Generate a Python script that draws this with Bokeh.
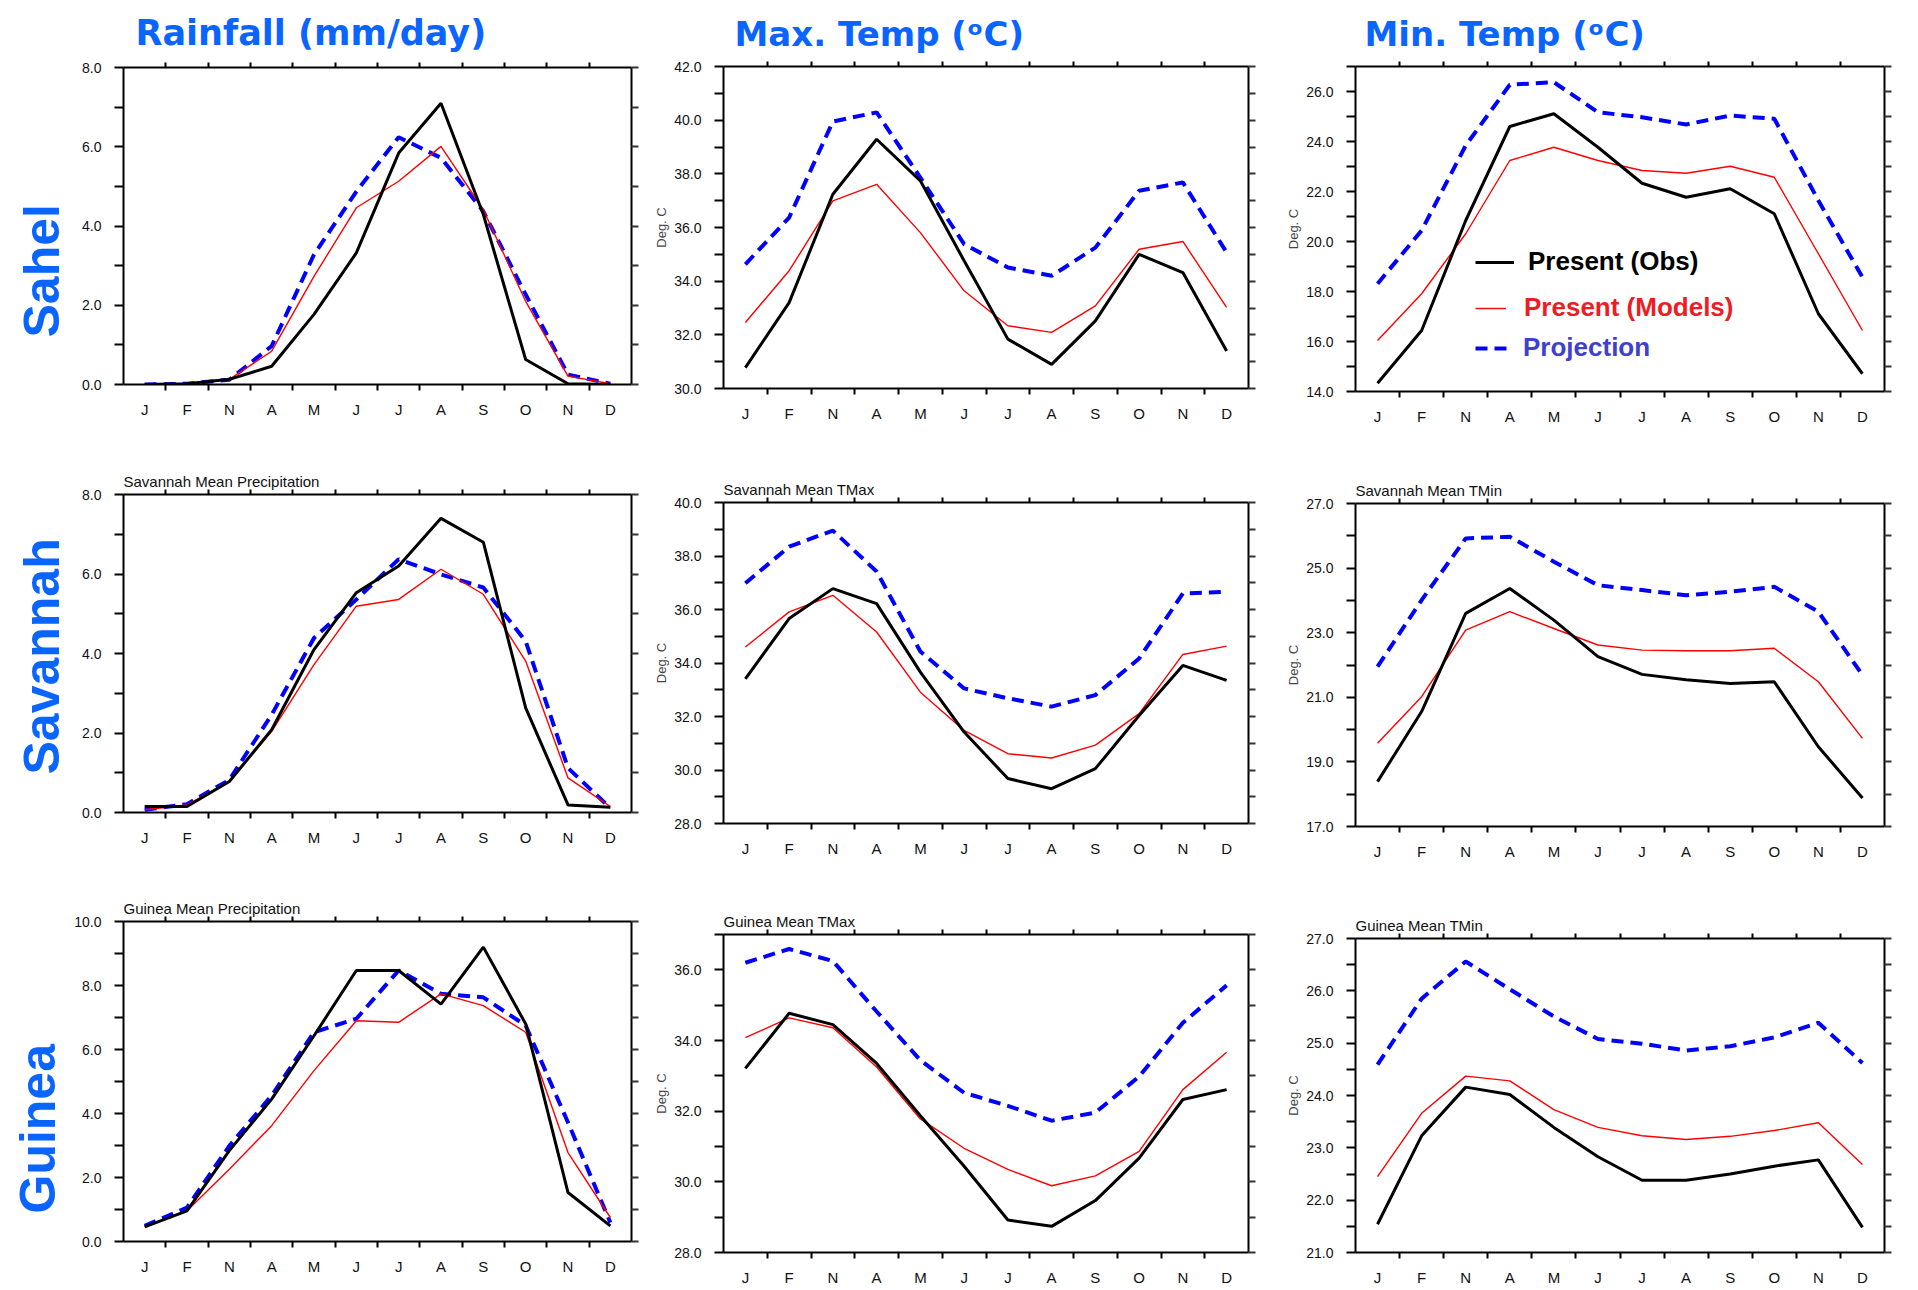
from bokeh.plotting import figure
from bokeh.layouts import column, row
from bokeh.models import (Range1d, FixedTicker, LinearAxis, Legend, LegendItem,
                          NumeralTickFormatter, Title)
from bokeh.embed import file_html
from bokeh.resources import INLINE

# ---------------- data ----------------
month_labels = ["J", "F", "N", "A", "M", "J", "J", "A", "S", "O", "N", "D"]
month_pos = [1, 2, 3, 4, 5, 6, 7, 8, 9, 10, 11, 12]
month_bounds = [1.5, 2.5, 3.5, 4.5, 5.5, 6.5, 7.5, 8.5, 9.5, 10.5, 11.5]

column_titles = ["Rainfall (mm/day)", "Max. Temp (\u1d52C)", "Min. Temp (\u1d52C)"]
row_titles = ["Sahel", "Savannah", "Guinea"]
legend_labels = ["Present (Obs)", "Present (Models)", "Projection"]

sahel_rain_obs = [0.0, 0.02, 0.13, 0.46, 1.77, 3.32, 5.84, 7.10, 4.29, 0.63, 0.02, 0.0]
sahel_rain_mod = [0.0, 0.02, 0.13, 0.84, 2.73, 4.46, 5.13, 6.01, 4.41, 2.10, 0.21, 0.02]
sahel_rain_proj = [0.0, 0.02, 0.12, 0.97, 3.28, 4.87, 6.24, 5.72, 4.37, 2.27, 0.25, 0.02]

sahel_tmax_obs = [30.78, 33.2, 37.24, 39.29, 37.74, 34.76, 31.84, 30.9, 32.52, 35.0, 34.32, 31.4]
sahel_tmax_mod = [32.46, 34.39, 36.99, 37.61, 35.81, 33.64, 32.34, 32.09, 33.08, 35.19, 35.48, 33.02]
sahel_tmax_proj = [34.63, 36.37, 39.95, 40.29, 37.86, 35.38, 34.51, 34.2, 35.25, 37.37, 37.68, 35.07]

sahel_tmin_obs = [14.33, 16.44, 20.84, 24.6, 25.11, 23.77, 22.33, 21.77, 22.11, 21.11, 17.11, 14.71]
sahel_tmin_mod = [16.04, 17.91, 20.31, 23.24, 23.77, 23.24, 22.84, 22.73, 23.01, 22.57, 19.51, 16.44]
sahel_tmin_proj = [18.31, 20.44, 23.84, 26.27, 26.37, 25.17, 24.97, 24.68, 25.04, 24.91, 21.64, 18.57]

savannah_rain_obs = [0.15, 0.15, 0.78, 2.08, 4.10, 5.53, 6.20, 7.40, 6.80, 2.63, 0.19, 0.13]
savannah_rain_mod = [0.07, 0.19, 0.78, 2.04, 3.72, 5.19, 5.36, 6.12, 5.49, 3.81, 0.87, 0.15]
savannah_rain_proj = [0.07, 0.21, 0.82, 2.46, 4.39, 5.36, 6.37, 5.99, 5.66, 4.31, 1.12, 0.11]

savannah_tmax_obs = [33.41, 35.66, 36.78, 36.22, 33.66, 31.42, 29.68, 29.3, 30.05, 32.04, 33.91, 33.35]
savannah_tmax_mod = [34.6, 35.91, 36.53, 35.16, 32.91, 31.48, 30.61, 30.45, 30.93, 32.11, 34.32, 34.63]
savannah_tmax_proj = [36.98, 38.35, 38.95, 37.42, 34.43, 33.05, 32.68, 32.37, 32.8, 34.17, 36.6, 36.66]

savannah_tmin_obs = [18.39, 20.56, 23.6, 24.37, 23.39, 22.26, 21.71, 21.54, 21.43, 21.48, 19.47, 17.88]
savannah_tmin_mod = [19.58, 21.02, 23.08, 23.65, 23.13, 22.62, 22.46, 22.44, 22.44, 22.52, 21.48, 19.73]
savannah_tmin_proj = [21.95, 24.01, 25.92, 25.97, 25.2, 24.47, 24.32, 24.16, 24.27, 24.42, 23.65, 21.69]

guinea_rain_obs = [0.46, 0.96, 2.84, 4.45, 6.43, 8.47, 8.47, 7.42, 9.2, 6.8, 1.53, 0.49]
guinea_rain_mod = [0.46, 0.96, 2.26, 3.62, 5.34, 6.9, 6.85, 7.74, 7.37, 6.54, 2.78, 0.75]
guinea_rain_proj = [0.49, 1.06, 2.99, 4.56, 6.54, 6.96, 8.47, 7.74, 7.63, 6.75, 3.72, 0.59]

guinea_tmax_obs = [33.21, 34.77, 34.45, 33.35, 31.87, 30.44, 28.92, 28.74, 29.47, 30.67, 32.33, 32.61]
guinea_tmax_mod = [34.08, 34.64, 34.36, 33.25, 31.78, 30.95, 30.35, 29.89, 30.17, 30.86, 32.61, 33.67]
guinea_tmax_proj = [36.2, 36.59, 36.25, 34.82, 33.44, 32.52, 32.15, 31.73, 31.96, 32.98, 34.5, 35.56]

guinea_tmin_obs = [21.54, 23.23, 24.16, 24.02, 23.39, 22.83, 22.38, 22.38, 22.5, 22.65, 22.77, 21.48]
guinea_tmin_mod = [22.45, 23.66, 24.37, 24.28, 23.73, 23.39, 23.23, 23.16, 23.22, 23.33, 23.48, 22.68]
guinea_tmin_proj = [24.59, 25.85, 26.56, 26.03, 25.51, 25.08, 24.99, 24.86, 24.94, 25.11, 25.39, 24.62]

rain_ticks_8 = [0, 2, 4, 6, 8]
rain_minor_8 = [1, 3, 5, 7]
rain_ticks_10 = [0, 2, 4, 6, 8, 10]
rain_minor_10 = [1, 3, 5, 7, 9]

# ---------------- style ----------------
FONT = "Liberation Sans"
HEAD_FONT = "DejaVu Sans"
HEAD_BLUE = "#0a64ff"
C_OBS = "black"
C_MOD = "#ff0000"
C_PROJ = "#0000ff"


def make_panel(obs, mod, proj, yr, ymaj, ymin, geom, ylabel=False, title=None):
    bl, fw, br, bt, fh, bb = geom
    p = figure(frame_width=fw, frame_height=fh,
               min_border_left=bl, min_border_right=br,
               min_border_top=bt, min_border_bottom=bb,
               x_range=Range1d(0.5, 12.5), y_range=Range1d(yr[0], yr[1]),
               tools="", toolbar_location=None, output_backend="svg",
               x_axis_location=None, y_axis_location=None)
    try:
        p.frame_align = False
    except Exception:
        pass
    p.outline_line_color = None
    p.grid.visible = False
    p.background_fill_color = "white"
    p.border_fill_color = "white"

    common = dict(axis_line_width=2, axis_line_color="black",
                  major_tick_line_width=2, minor_tick_line_width=2,
                  major_tick_line_color="black", minor_tick_line_color="black")

    bottom = LinearAxis(ticker=FixedTicker(ticks=month_pos, minor_ticks=month_bounds),
                        major_label_overrides={m: l for m, l in zip(month_pos, month_labels)},
                        major_tick_out=0, major_tick_in=0, minor_tick_out=6, minor_tick_in=0,
                        major_label_standoff=10, major_label_text_font=FONT,
                        major_label_text_font_size="15px", major_label_text_color="#111111",
                        **common)
    top = LinearAxis(ticker=FixedTicker(ticks=[], minor_ticks=month_bounds),
                     major_tick_out=0, major_tick_in=0, minor_tick_out=5, minor_tick_in=0,
                     major_label_standoff=0, **common)
    left = LinearAxis(ticker=FixedTicker(ticks=ymaj, minor_ticks=ymin),
                      formatter=NumeralTickFormatter(format="0.0"),
                      major_tick_out=9, major_tick_in=0, minor_tick_out=9, minor_tick_in=0,
                      major_label_standoff=13, major_label_text_font=FONT,
                      major_label_text_font_size="14px", major_label_text_color="#111111",
                      **common)
    if ylabel:
        left.axis_label = "Deg. C"
        left.axis_label_text_font = FONT
        left.axis_label_text_font_size = "13px"
        left.axis_label_text_font_style = "normal"
        left.axis_label_standoff = 2
    right = LinearAxis(ticker=FixedTicker(ticks=[], minor_ticks=sorted(list(ymaj) + list(ymin))),
                       major_tick_out=0, major_tick_in=0, minor_tick_out=7, minor_tick_in=0,
                       major_label_standoff=0, **common)
    right.minor_tick_line_color = "#333333"
    p.add_layout(bottom, "below")
    p.add_layout(top, "above")
    p.add_layout(left, "left")
    p.add_layout(right, "right")

    r_proj = p.line(month_pos, proj, line_color=C_PROJ, line_width=4, line_dash="12 7")
    r_mod = p.line(month_pos, mod, line_color=C_MOD, line_width=1.4)
    r_obs = p.line(month_pos, obs, line_color=C_OBS, line_width=3)

    if title:
        p.title.text = title
        p.title.text_font = FONT
        p.title.text_font_style = "normal"
        p.title.text_font_size = "15px"
        p.title.text_color = "#111111"
        p.title.align = "left"
        p.title.offset = 0
        p.title.standoff = 0
    return p, (r_obs, r_mod, r_proj)


# geometry: (border_left, frame_w, border_right, border_top, frame_h, border_bottom)
C1 = (123, 508, 14)
C2 = (78, 525, 27)
C3 = (80, 529, 29)
G = [
    [C1 + (66, 317, 47), C2 + (66, 322, 42), C3 + (66, 325, 39)],
    [C1 + (63, 318, 49), C2 + (71, 321, 38), C3 + (72, 323, 35)],
    [C1 + (59, 320, 49), C2 + (72, 318, 38), C3 + (76, 314, 38)],
]

p1, _ = make_panel(sahel_rain_obs, sahel_rain_mod, sahel_rain_proj, (0, 8), rain_ticks_8, rain_minor_8, G[0][0])
p2, _ = make_panel(sahel_tmax_obs, sahel_tmax_mod, sahel_tmax_proj, (30, 42),
                   [30, 32, 34, 36, 38, 40, 42], [31, 33, 35, 37, 39, 41], G[0][1], ylabel=True)
p3, r3 = make_panel(sahel_tmin_obs, sahel_tmin_mod, sahel_tmin_proj, (14, 27),
                    [14, 16, 18, 20, 22, 24, 26], [15, 17, 19, 21, 23, 25, 27], G[0][2], ylabel=True)

p4, _ = make_panel(savannah_rain_obs, savannah_rain_mod, savannah_rain_proj, (0, 8), rain_ticks_8, rain_minor_8,
                   G[1][0], title="Savannah Mean Precipitation")
p5, _ = make_panel(savannah_tmax_obs, savannah_tmax_mod, savannah_tmax_proj, (28, 40),
                   [28, 30, 32, 34, 36, 38, 40], [29, 31, 33, 35, 37, 39], G[1][1], ylabel=True,
                   title="Savannah Mean TMax")
p6, _ = make_panel(savannah_tmin_obs, savannah_tmin_mod, savannah_tmin_proj, (17, 27),
                   [17, 19, 21, 23, 25, 27], [18, 20, 22, 24, 26], G[1][2], ylabel=True,
                   title="Savannah Mean TMin")

p7, _ = make_panel(guinea_rain_obs, guinea_rain_mod, guinea_rain_proj, (0, 10), rain_ticks_10, rain_minor_10,
                   G[2][0], title="Guinea Mean Precipitation")
p8, _ = make_panel(guinea_tmax_obs, guinea_tmax_mod, guinea_tmax_proj, (28, 37),
                   [28, 30, 32, 34, 36], [29, 31, 33, 35, 37], G[2][1], ylabel=True,
                   title="Guinea Mean TMax")
p9, _ = make_panel(guinea_tmin_obs, guinea_tmin_mod, guinea_tmin_proj, (21, 27),
                   [21, 22, 23, 24, 25, 26, 27], [21.5, 22.5, 23.5, 24.5, 25.5, 26.5], G[2][2], ylabel=True,
                   title="Guinea Mean TMin")

# column headings (titles of the top row)
for p, txt, off, so, fs in [(p1, column_titles[0], 12, 20, "35px"), (p2, column_titles[1], 11, 16, "34px"),
                            (p3, column_titles[2], 9, 16, "34px")]:
    p.title.text = txt
    p.title.text_font = HEAD_FONT
    p.title.text_font_style = "bold"
    p.title.text_font_size = fs
    p.title.text_color = HEAD_BLUE
    p.title.align = "left"
    p.title.offset = off
    p.title.standoff = so

# row headings (vertical titles on the left of the first column)
for p, txt, off, so in [(p1, row_titles[0], 47, 20), (p4, row_titles[1], 38, 20), (p7, row_titles[2], 28, 11)]:
    p.add_layout(Title(text=txt, align="left", offset=off, standoff=so,
                       text_font=FONT, text_font_style="bold", text_font_size="50px",
                       text_color=HEAD_BLUE), "left")

# legend in the Sahel Tmin panel
leg_colors = ["black", "#ee1c25", "#4040d0"]
leg_glyph_w = [39, 31, 32]
leg_standoff = [14, 18, 16]
leg_up = [129, 83, 43]
for r, lab, col, gw, so, up in zip(r3, legend_labels, leg_colors, leg_glyph_w, leg_standoff, leg_up):
    lg = Legend(items=[LegendItem(label=lab, renderers=[r])], location=(120, up - 15),
                orientation="vertical", glyph_width=gw, glyph_height=30, label_height=30,
                label_standoff=so, padding=0, margin=0, spacing=0,
                border_line_color=None, background_fill_alpha=0,
                label_text_font=FONT, label_text_font_style="bold",
                label_text_font_size="26px", label_text_color=col,
                label_text_baseline="middle")
    p3.add_layout(lg)

layout = column(row(p1, p2, p3), row(p4, p5, p6), row(p7, p8, p9))

html = file_html(layout, INLINE, title="West Africa climate")
open("out.html", "w").write(html)
